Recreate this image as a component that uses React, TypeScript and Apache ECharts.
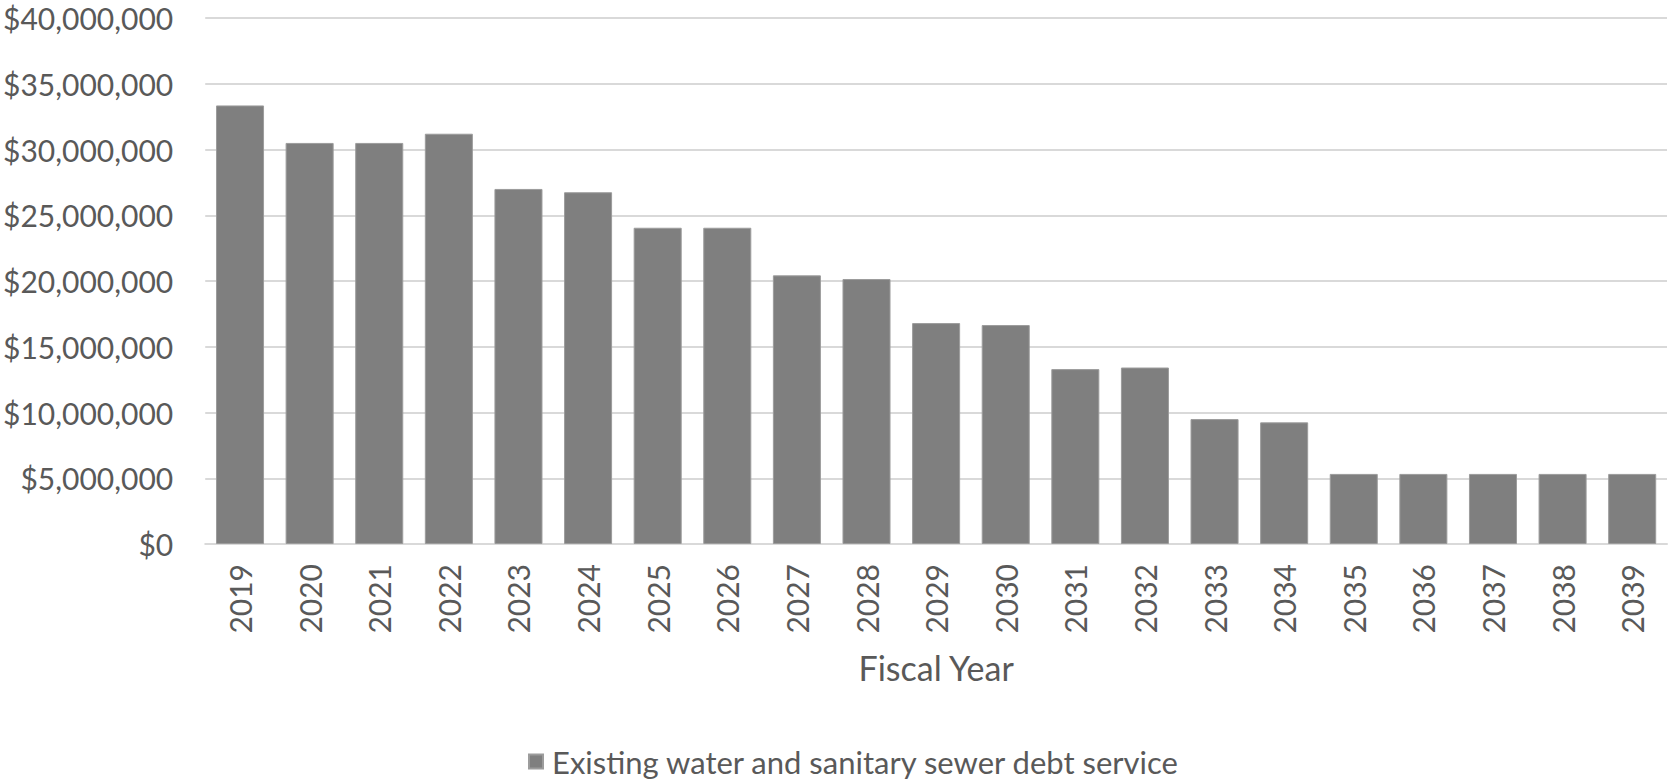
import React, { useEffect, useRef } from "react";
import * as echarts from "echarts";

const years = ["2019","2020","2021","2022","2023","2024","2025","2026","2027","2028","2029","2030","2031","2032","2033","2034","2035","2036","2037","2038","2039"];
const debtService = [33350000, 30500000, 30500000, 31200000, 27000000, 26750000, 24050000, 24050000, 20430000, 20150000, 16800000, 16650000, 13300000, 13420000, 9500000, 9250000, 5330000, 5330000, 5330000, 5330000, 5330000];
const seriesName = "Existing water and sanitary sewer debt service";
const xAxisTitle = "Fiscal Year";

const FONT = "Lato, 'Open Sans', sans-serif";
const TEXT = "#595959";

export default function App() {
  const ref = useRef<HTMLDivElement>(null);
  useEffect(() => {
    document.body.style.margin = "0";
    const chart = echarts.init(ref.current!, null, { renderer: "svg" });
    chart.setOption({
      animation: false,
      backgroundColor: "#ffffff",
      textStyle: { fontFamily: FONT },
      grid: { left: 202, right: 2, top: 18, bottom: 236, containLabel: false },
      legend: {
        top: 741,
        left: 523,
        itemWidth: 14,
        itemHeight: 14,
        icon: "rect",
        itemGap: 8,
        textStyle: { color: TEXT, fontSize: 31, fontFamily: FONT, padding: [0, 0, 0, 4] },
        data: [seriesName],
      },
      xAxis: {
        type: "category",
        data: years,
        name: xAxisTitle,
        nameLocation: "middle",
        nameGap: 106,
        nameTextStyle: { color: TEXT, fontSize: 34, fontFamily: FONT },
        axisLine: { lineStyle: { color: "#d9d9d9", width: 2 } },
        axisTick: { show: false },
        axisLabel: { rotate: 90, margin: 20, color: TEXT, fontSize: 30, fontFamily: FONT, interval: 0 },
      },
      yAxis: {
        type: "value",
        min: 0,
        max: 40000000,
        interval: 5000000,
        axisLine: { show: false },
        axisTick: { show: false },
        splitLine: { lineStyle: { color: "#d9d9d9", width: 2 } },
        axisLabel: {
          margin: 32,
          color: TEXT,
          fontSize: 30,
          fontFamily: FONT,
          formatter: (v: number) => "$" + v.toLocaleString("en-US"),
        },
      },
      series: [
        {
          name: seriesName,
          type: "bar",
          data: debtService,
          barCategoryGap: "31%",
          itemStyle: { color: "#7f7f7f", borderColor: "#9c9c9c", borderWidth: 1 },
        },
      ],
    });
    return () => chart.dispose();
  }, []);
  return <div ref={ref} style={{ width: 1669, height: 780 }} />;
}
